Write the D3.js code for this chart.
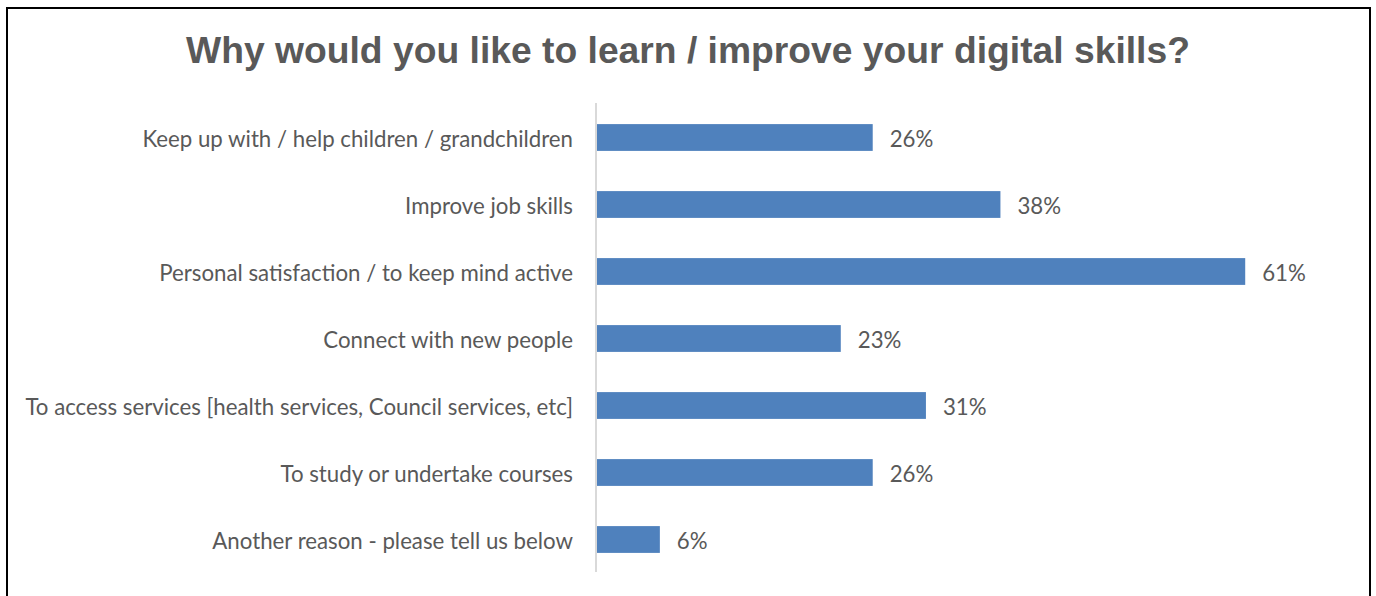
<!DOCTYPE html>
<html>
<head>
<meta charset="utf-8">
<script src="https://cdn.jsdelivr.net/npm/d3@7"></script>
<style>
  html, body { margin: 0; padding: 0; background: #fff; }
  svg { display: block; }
</style>
</head>
<body>
<svg id="chart" width="1376" height="596"></svg>
<script>
// Survey question and answers
const title = "Why would you like to learn / improve your digital skills?";
const categories = [
  "Keep up with / help children / grandchildren",
  "Improve job skills",
  "Personal satisfaction / to keep mind active",
  "Connect with new people",
  "To access services [health services, Council services, etc]",
  "To study or undertake courses",
  "Another reason - please tell us below"
];
const values = [0.26, 0.38, 0.61, 0.23, 0.31, 0.26, 0.06];

const W = 1376, H = 596;
const svg = d3.select("#chart");
const textColor = "#595959";
const barColor = "#4F81BD";
const labelFont = "Lato, 'Open Sans', sans-serif";

// Frame around the chart area
svg.append("rect")
  .attr("x", 7).attr("y", 8)
  .attr("width", 1363).attr("height", 620)
  .attr("fill", "#fff")
  .attr("stroke", "#000").attr("stroke-width", 2);

// Title
const titleText = svg.append("text")
  .attr("x", 688).attr("y", 63)
  .attr("text-anchor", "middle")
  .attr("font-family", "'Liberation Sans', Arial, sans-serif")
  .attr("font-weight", "bold")
  .attr("font-size", 36)
  .attr("fill", textColor)
  .text(title);
// keep the title to its intended span
const tw = titleText.node().getComputedTextLength();
titleText.attr("font-size", 36 * 1004 / tw);

const axisX = 596;
const x = d3.scaleLinear().domain([0, 0.7]).range([axisX, axisX + 745]);
const y = d3.scaleBand().domain(categories).range([104, 573])
  .paddingInner(0.6).paddingOuter(0.3);

// Bars
svg.append("g").selectAll("rect")
  .data(categories)
  .join("rect")
  .attr("x", x(0))
  .attr("y", d => y(d))
  .attr("width", (d, i) => x(values[i]) - x(0))
  .attr("height", y.bandwidth())
  .attr("fill", barColor);

// Category axis line
const yAxis = svg.append("g")
  .attr("transform", `translate(${axisX},0)`)
  .call(d3.axisLeft(y).tickSize(0).tickPadding(23));
yAxis.select(".domain").attr("stroke", "#d9d9d9").attr("stroke-width", 2)
  .attr("d", "M0,103V572");
yAxis.selectAll("text")
  .attr("dy", "0.42em")
  .attr("font-family", labelFont)
  .attr("font-size", 20)
  .attr("fill", textColor);

// Scale the label font so the longest label spans its width
let maxW = 0;
yAxis.selectAll("text").each(function () {
  maxW = Math.max(maxW, this.getComputedTextLength());
});
const labelSize = 20 * 548 / maxW;
yAxis.selectAll("text").attr("font-size", labelSize);

// Value labels
svg.append("g").selectAll("text")
  .data(categories)
  .join("text")
  .attr("x", (d, i) => x(values[i]) + 17)
  .attr("y", d => y(d) + y.bandwidth() / 2)
  .attr("dy", "0.42em")
  .attr("font-family", labelFont)
  .attr("font-size", labelSize)
  .attr("fill", textColor)
  .text((d, i) => d3.format(".0%")(values[i]));
</script>
</body>
</html>
